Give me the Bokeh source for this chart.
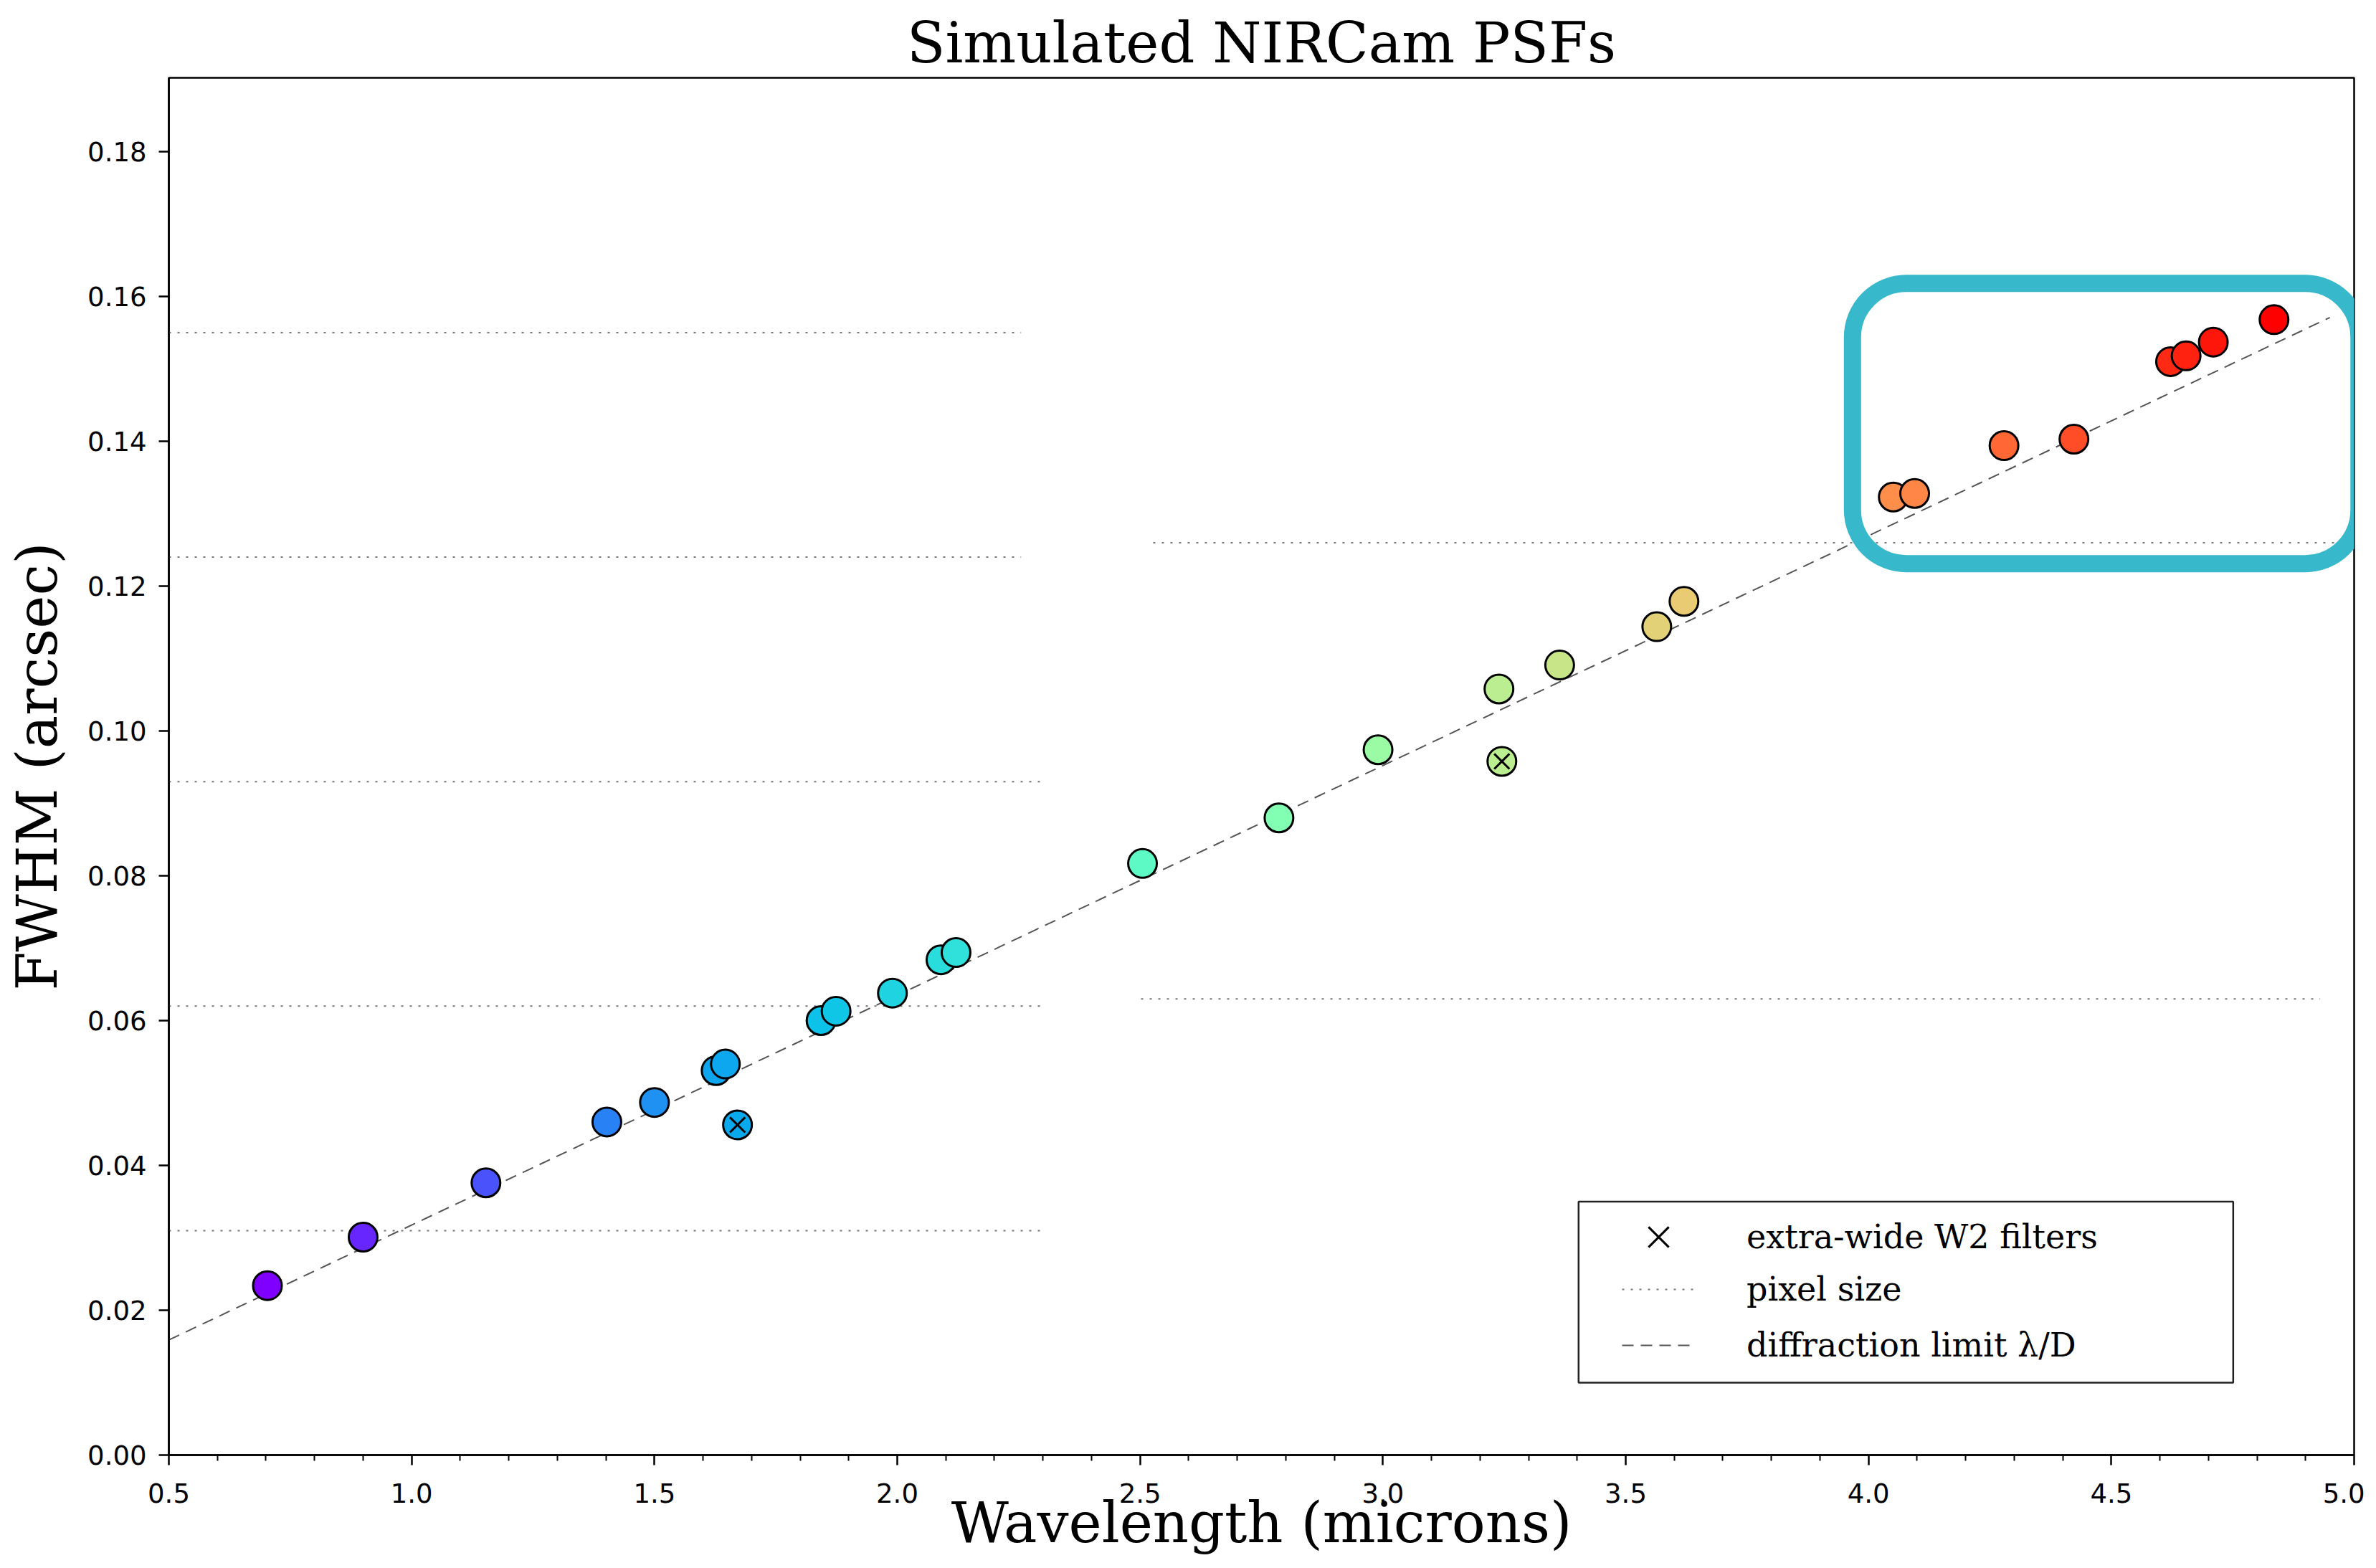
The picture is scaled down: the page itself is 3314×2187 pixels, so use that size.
import numpy as np
from bokeh.plotting import figure
from bokeh.models import (ColumnDataSource, FixedTicker, PrintfTickFormatter, Legend, LegendItem,
                          BoxAnnotation, LinearColorMapper, CDSView, BooleanFilter, Range1d)
from bokeh.embed import file_html
from bokeh.resources import INLINE

# ---------------- data ----------------
filters = ["F070W", "F090W", "F115W", "F140M", "F150W", "F162M", "F164N", "F150W2",
           "F182M", "F187N", "F200W", "F210M", "F212N", "F250M", "F277W", "F300M",
           "F323N", "F322W2", "F335M", "F356W", "F360M", "F405N", "F410M", "F430M",
           "F444W", "F460M", "F466N", "F470N", "F480M"]
wavelength = [0.703, 0.900, 1.153, 1.402, 1.500, 1.627, 1.646, 1.671,
              1.843, 1.874, 1.990, 2.090, 2.121, 2.505, 2.786, 2.990,
              3.239, 3.245, 3.364, 3.564, 3.620, 4.051, 4.095, 4.279,
              4.423, 4.622, 4.654, 4.710, 4.835]
fwhm = [0.0234, 0.0301, 0.0376, 0.0460, 0.0487, 0.0531, 0.0540, 0.0456,
        0.0600, 0.0613, 0.0638, 0.0684, 0.0694, 0.0817, 0.0880, 0.0974,
        0.1058, 0.0958, 0.1091, 0.1144, 0.1179, 0.1323, 0.1328, 0.1394,
        0.1403, 0.1510, 0.1518, 0.1537, 0.1568]
extra_wide = [False, False, False, False, False, False, False, True,
              False, False, False, False, False, False, False, False,
              False, True, False, False, False, False, False, False,
              False, False, False, False, False]

# pixel-size reference lines (short-wave 0.031", long-wave 0.063" multiples)
pixel_y = [0.031, 0.062, 0.093, 0.124, 0.155, 0.063, 0.126]
pixel_x_start = [0.5, 0.5, 0.5, 0.5, 0.5, 2.502, 2.527]
pixel_x_end = [2.305, 2.305, 2.305, 2.255, 2.255, 4.93, 4.97]

# diffraction limit lambda/D
diffraction_x = [0.5, 4.95]
diffraction_y = [0.0159, 0.1571]

x_major_ticks = [0.5, 1.0, 1.5, 2.0, 2.5, 3.0, 3.5, 4.0, 4.5, 5.0]
y_major_ticks = [0.00, 0.02, 0.04, 0.06, 0.08, 0.10, 0.12, 0.14, 0.16, 0.18]

# ---------------- colours: matplotlib "rainbow" colormap ----------------
def rainbow_hex(t):
    r = min(1.0, abs(2 * t - 0.5))
    g = max(0.0, np.sin(np.pi * t))
    b = max(0.0, np.cos(np.pi * t / 2))
    return "#%02x%02x%02x" % (int(round(r * 255)), int(round(g * 255)), int(round(b * 255)))

palette = [rainbow_hex(t) for t in np.linspace(0, 1, 256)]
mapper = LinearColorMapper(palette=palette, low=min(wavelength), high=max(wavelength))

src = ColumnDataSource(dict(filt=filters, wl=wavelength, fwhm=fwhm))
pix_src = ColumnDataSource(dict(x0=pixel_x_start, x1=pixel_x_end, y=pixel_y))

p = figure(width=3298, height=2171, output_backend="svg", toolbar_location=None,
           x_range=Range1d(0.5, 5.0), y_range=Range1d(0.0, 0.1902),
           title="Simulated NIRCam PSFs",
           x_axis_label="Wavelength (microns)", y_axis_label="FWHM (arcsec)",
           min_border_left=235, min_border_right=15, min_border_top=108, min_border_bottom=140)

p.background_fill_color = "white"
p.border_fill_color = "white"
p.grid.visible = False
p.outline_line_color = "black"
p.outline_line_width = 2.5
p.outline_line_alpha = 1.0

p.title.text_font = "DejaVu Serif"
p.title.text_font_size = "78px"
p.title.text_font_style = "normal"
p.title.text_color = "black"
p.title.align = "center"
p.title.standoff = 8

minor_x = [round(v, 1) for v in np.arange(0.6, 5.0, 0.1) if abs(round(v * 2) - v * 2) > 1e-6]
p.xaxis.ticker = FixedTicker(ticks=x_major_ticks, minor_ticks=minor_x)
p.yaxis.ticker = FixedTicker(ticks=y_major_ticks, minor_ticks=[])
p.xaxis.formatter = PrintfTickFormatter(format="%.1f")
p.yaxis.formatter = PrintfTickFormatter(format="%.2f")

for ax in (p.xaxis[0], p.yaxis[0]):
    ax.axis_line_width = 2.5
    ax.axis_line_color = "black"
    ax.major_tick_line_width = 2.5
    ax.major_tick_line_color = "black"
    ax.minor_tick_line_width = 2
    ax.minor_tick_line_color = "black"
    ax.major_tick_out = 14
    ax.major_tick_in = 0
    ax.minor_tick_out = 8
    ax.minor_tick_in = 0
    ax.major_label_text_font = "DejaVu Sans"
    ax.major_label_text_font_size = "37px"
    ax.major_label_text_color = "black"
    ax.axis_label_text_font = "DejaVu Serif"
    ax.axis_label_text_font_size = "78px"
    ax.axis_label_text_font_style = "normal"
    ax.axis_label_text_color = "black"

p.xaxis.major_label_standoff = 25
p.yaxis.major_label_standoff = 17
p.xaxis.axis_label_standoff = -20
p.yaxis.axis_label_standoff = 22

# reference lines
pix_r = p.segment(x0="x0", y0="y", x1="x1", y1="y", source=pix_src,
                  line_color="#777777", line_width=2, line_dash="3 9")
diff_r = p.line(diffraction_x, diffraction_y, line_color="#555555", line_width=2, line_dash="16 10")

# data points
p.scatter(x="wl", y="fwhm", source=src, marker="circle", size=40,
          fill_color={"field": "wl", "transform": mapper},
          line_color="black", line_width=3)
view = CDSView(filter=BooleanFilter(extra_wide))
x_r = p.scatter(x="wl", y="fwhm", source=src, view=view, marker="x", size=30,
                line_color="black", line_width=3)

# legend frame
legend_box = BoxAnnotation(left=3.403, right=4.751, bottom=0.0100, top=0.0350,
                           fill_color="white", fill_alpha=1.0,
                           line_color="#222222", line_alpha=1.0, line_width=2.5)
p.add_layout(legend_box)

common = dict(padding=0, spacing=0, margin=0, glyph_width=102, label_standoff=72,
              label_text_font="DejaVu Serif", label_text_font_size="46px",
              label_text_color="black", background_fill_alpha=0, border_line_alpha=0)
legend_marker = Legend(items=[LegendItem(label="extra-wide W2 filters", renderers=[x_r])],
                       location=(2027, 254), glyph_height=100, **common)
legend_lines = Legend(items=[LegendItem(label="pixel size", renderers=[pix_r]),
                             LegendItem(label="diffraction limit λ/D", renderers=[diff_r])],
                      location=(2027, 114), glyph_height=78, **common)
p.add_layout(legend_marker)
p.add_layout(legend_lines)

# highlight box around the long-wavelength points
highlight = BoxAnnotation(left=3.967, right=5.010, bottom=0.1231, top=0.1618,
                          fill_alpha=0, line_color="#37b8cb", line_alpha=1.0, line_width=24,
                          border_radius=75)
p.add_layout(highlight)

open("out.html", "w").write(file_html(p, INLINE))
